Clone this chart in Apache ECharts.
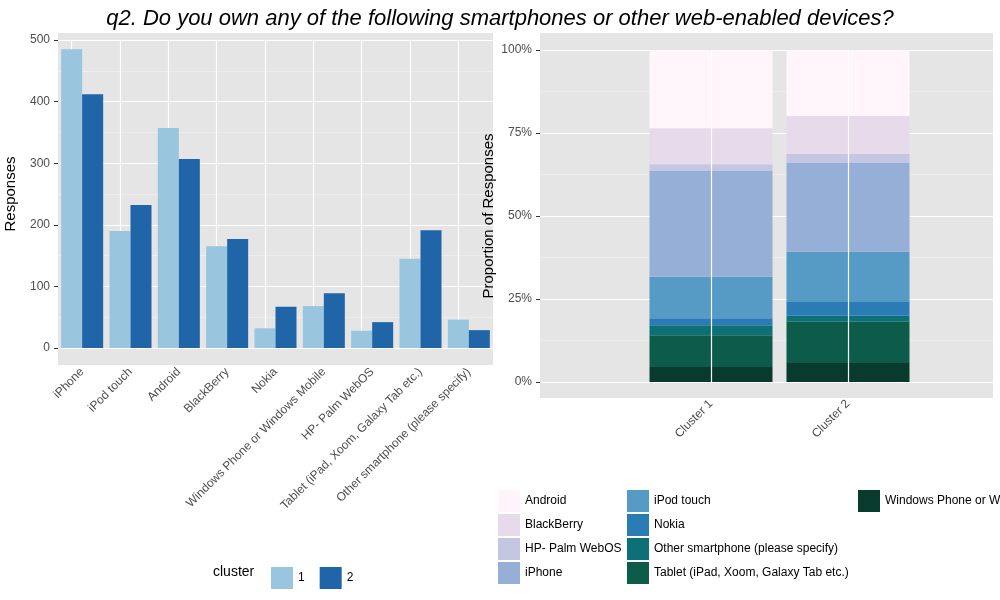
<!DOCTYPE html>
<html><head><meta charset="utf-8">
<script src="https://cdn.jsdelivr.net/npm/echarts@6/dist/echarts.min.js"></script>
<style>html,body{margin:0;padding:0;background:#fff}#c{width:1000px;height:600px}</style>
</head><body><div id="c"></div>
<script>
const devices = ["iPhone","iPod touch","Android","BlackBerry","Nokia","Windows Phone or Windows Mobile","HP- Palm WebOS","Tablet (iPad, Xoom, Galaxy Tab etc.)","Other smartphone (please specify)"];
const cluster1 = [485,190,357,165,32,68,28,145,46];
const cluster2 = [412,232,307,177,67,89,42,191,29];
const clusterLabels = ["Cluster 1","Cluster 2"];
const stackOrder = ["Windows Phone or Windows Mobile","Tablet (iPad, Xoom, Galaxy Tab etc.)","Other smartphone (please specify)","Nokia","iPod touch","iPhone","HP- Palm WebOS","BlackBerry","Android"];
const stackColors = ["#083a2e","#0d5c4a","#0e7077","#2b7bb5","#569ac6","#96afd6","#c5c6e1","#e7daeb","#fff5fa"];

const t1 = cluster1.reduce((a,b)=>a+b,0), t2 = cluster2.reduce((a,b)=>a+b,0);
const txt = '#4d4d4d';
const stackSeries = stackOrder.map((d,i)=>{
  const k = devices.indexOf(d);
  return {name:d,type:'bar',stack:'p',xAxisIndex:2,yAxisIndex:2,barWidth:123,
    itemStyle:{color:stackColors[i]},
    data:[cluster1[k]/t1, cluster2[k]/t2], z:3};
});
const chart = echarts.init(document.getElementById('c'));
const yl = {color:txt,fontSize:12,margin:8};
chart.setOption({
  animation:false,
  textStyle:{fontFamily:'Liberation Sans, Arial, sans-serif'},
  title:{text:'q2. Do you own any of the following smartphones or other web-enabled devices?',left:'center',top:3,
    textStyle:{fontSize:22,fontStyle:'italic',fontWeight:'normal',color:'#000'}},
  graphic:[
    {type:'rect',shape:{x:58,y:33,width:435,height:332},style:{fill:'#e5e5e5'},z:-10},
    {type:'rect',shape:{x:540,y:33,width:453,height:365},style:{fill:'#e5e5e5'},z:-10},
    {type:'text',left:213,top:565,style:{text:'cluster',fontSize:14,fill:'#000'}}
  ],
  grid:[{left:58,top:40,width:435,height:308},{left:540,top:50,width:453,height:332},{left:642.5,top:50,width:274,height:332}],
  xAxis:[
    {type:'category',gridIndex:0,data:devices,axisLine:{show:false},axisTick:{length:4,lineStyle:{color:'#333'}},
      axisLabel:{rotate:45,interval:0,margin:22,color:txt,fontSize:12},splitLine:{show:false}},
    {type:'value',gridIndex:1,min:0,max:1,show:false},
    {type:'category',gridIndex:2,data:clusterLabels,axisLine:{show:false},axisTick:{length:4,alignWithLabel:true,lineStyle:{color:'#333'}},
      axisLabel:{rotate:45,margin:20,color:txt,fontSize:12},splitLine:{show:false}}
  ],
  yAxis:[
    {type:'value',gridIndex:0,min:0,max:500,interval:100,name:'Responses',nameLocation:'middle',nameGap:40,
      nameTextStyle:{fontSize:15,color:'#000'},axisLine:{show:false},axisTick:{show:true,length:4,lineStyle:{color:'#333'}},
      axisLabel:yl,
      splitLine:{lineStyle:{color:'#fff',width:1.2}},minorTick:{show:false,splitNumber:2},minorSplitLine:{show:true,lineStyle:{color:'#f2f2f2',width:0.6}}},
    {type:'value',gridIndex:1,min:0,max:1,interval:0.25,name:'Proportion of Responses',nameLocation:'middle',nameGap:44,
      nameTextStyle:{fontSize:15,color:'#000'},axisLine:{show:false,onZero:false},axisTick:{show:true,length:4,lineStyle:{color:'#333'}},
      axisLabel:Object.assign({},yl,{formatter:v=>Math.round(v*100)+'%'}),
      splitLine:{lineStyle:{color:'#fff',width:1.2}},minorTick:{show:false,splitNumber:2},minorSplitLine:{show:true,lineStyle:{color:'#f2f2f2',width:0.6}}},
    {type:'value',gridIndex:2,min:0,max:1,show:false}
  ],
  legend:[
    {data:['1','2'],left:266,top:562,itemWidth:22,itemHeight:22,itemGap:15,icon:'rect',textStyle:{fontSize:12,color:'#000'}},
    {data:['Android','BlackBerry','HP- Palm WebOS','iPhone'],orient:'vertical',left:493,top:485,itemWidth:22,itemHeight:22,itemGap:2,icon:'rect',textStyle:{fontSize:12,color:'#000'}},
    {data:['iPod touch','Nokia','Other smartphone (please specify)','Tablet (iPad, Xoom, Galaxy Tab etc.)'],orient:'vertical',left:622,top:485,itemWidth:22,itemHeight:22,itemGap:2,icon:'rect',textStyle:{fontSize:12,color:'#000'}},
    {data:['Windows Phone or Windows Mobile'],orient:'vertical',left:853,top:485,itemWidth:22,itemHeight:22,itemGap:2,icon:'rect',textStyle:{fontSize:12,color:'#000'}}
  ],
  series:[
    {name:'1',type:'bar',xAxisIndex:0,yAxisIndex:0,data:cluster1,barWidth:21,barGap:'0%',itemStyle:{color:'#99c5de'},z:3,
      markLine:{silent:true,symbol:'none',label:{show:false},lineStyle:{color:'#fff',type:'solid',width:1.2},
        data:devices.map(d=>({xAxis:d})),z:1}},
    {name:'2',type:'bar',xAxisIndex:0,yAxisIndex:0,data:cluster2,barWidth:21,itemStyle:{color:'#1f65a7'},z:3},
    {type:'line',xAxisIndex:2,yAxisIndex:2,data:[null,null],markLine:{silent:true,symbol:'none',label:{show:false},
      lineStyle:{color:'#fff',type:'solid',width:1.2},data:clusterLabels.map(c=>({xAxis:c}))}},
    ...stackSeries
  ]
});
</script></body></html>
